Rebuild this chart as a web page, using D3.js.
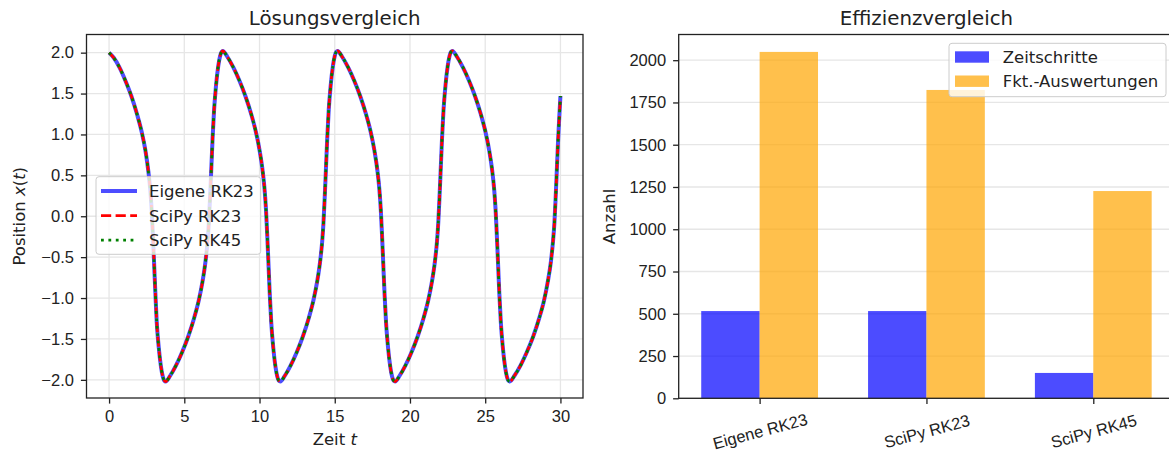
<!DOCTYPE html>
<html>
<head>
<meta charset="utf-8">
<script src="https://cdn.jsdelivr.net/npm/d3@7"></script>
<style>
  body { margin: 0; background: #fff; }
  svg { font-family: "DejaVu Sans", sans-serif; }
  .tick text { font-size: 16.5px; fill: #222; }
</style>
</head>
<body>
<svg id="fig" width="1169" height="455"></svg>
<script>

// 
// data
// 

// time values t of the solution curve
var zeit = [
  0, 0.30, 0.69, 1.08, 1.48, 1.87, 2.17, 2.42, 2.61, 2.74, 2.83, 2.91, 2.99, 3.08, 3.17, 3.30, 3.45, 3.57, 3.67,
  3.76, 4.06, 4.46, 4.86, 5.26, 5.66, 5.96, 6.21, 6.41, 6.54, 6.63, 6.71, 6.79, 6.88, 6.98, 7.11, 7.26, 7.38, 7.48,
  7.56, 7.86, 8.26, 8.66, 9.06, 9.46, 9.76, 10.01, 10.21, 10.34, 10.43, 10.51, 10.59, 10.68, 10.78, 10.91, 11.06, 11.18, 11.28,
  11.38, 11.68, 12.08, 12.48, 12.88, 13.28, 13.58, 13.83, 14.03, 14.16, 14.25, 14.33, 14.41, 14.50, 14.60, 14.73, 14.88, 15.00, 15.10,
  15.19, 15.49, 15.89, 16.29, 16.69, 17.09, 17.39, 17.64, 17.84, 17.97, 18.06, 18.14, 18.22, 18.31, 18.41, 18.54, 18.69, 18.81, 18.91,
  19.01, 19.31, 19.71, 20.11, 20.51, 20.91, 21.21, 21.46, 21.66, 21.79, 21.88, 21.96, 22.04, 22.13, 22.23, 22.36, 22.51, 22.63, 22.73,
  22.82, 23.12, 23.52, 23.92, 24.32, 24.72, 25.02, 25.27, 25.47, 25.60, 25.69, 25.77, 25.85, 25.94, 26.04, 26.17, 26.32, 26.44, 26.54,
  26.64, 26.94, 27.36, 27.77, 28.19, 28.60, 28.91, 29.16, 29.37, 29.50, 29.60, 29.68, 29.76, 29.85, 29.95, 30.00
];

// position x(t), own RK23 solver
var posEigene = [
  2.00, 1.94, 1.82, 1.66, 1.47, 1.24, 1.03, 0.80, 0.55, 0.32, 0.08, -0.22, -0.56, -0.95, -1.30, -1.60, -1.84, -1.96, -2.01,
  -2.02, -1.95, -1.82, -1.66, -1.47, -1.24, -1.03, -0.80, -0.55, -0.32, -0.08, 0.22, 0.56, 0.95, 1.30, 1.60, 1.84, 1.96, 2.01,
  2.02, 1.95, 1.82, 1.66, 1.47, 1.24, 1.03, 0.80, 0.55, 0.32, 0.08, -0.22, -0.56, -0.95, -1.30, -1.60, -1.84, -1.96, -2.01,
  -2.02, -1.95, -1.82, -1.66, -1.47, -1.24, -1.03, -0.80, -0.55, -0.32, -0.08, 0.22, 0.56, 0.95, 1.30, 1.60, 1.84, 1.96, 2.01,
  2.02, 1.95, 1.82, 1.66, 1.47, 1.24, 1.03, 0.80, 0.55, 0.32, 0.08, -0.22, -0.56, -0.95, -1.30, -1.60, -1.84, -1.96, -2.01,
  -2.02, -1.95, -1.82, -1.66, -1.47, -1.24, -1.03, -0.80, -0.55, -0.32, -0.08, 0.22, 0.56, 0.95, 1.30, 1.60, 1.84, 1.96, 2.01,
  2.02, 1.95, 1.82, 1.66, 1.47, 1.24, 1.03, 0.80, 0.55, 0.32, 0.08, -0.22, -0.56, -0.95, -1.30, -1.60, -1.84, -1.96, -2.01,
  -2.02, -1.95, -1.82, -1.66, -1.47, -1.24, -1.03, -0.80, -0.55, -0.32, -0.08, 0.22, 0.56, 0.95, 1.30, 1.47
];

// the scipy curves lie exactly on top of the own solver in the picture
var posSciPyRK23 = posEigene.slice();
var posSciPyRK45 = posEigene.slice();

var xTicksLeft = [0, 5, 10, 15, 20, 25, 30];
var yTicksLeft = [-2.0, -1.5, -1.0, -0.5, 0.0, 0.5, 1.0, 1.5, 2.0];

// efficiency comparison
var methoden = ['Eigene RK23', 'SciPy RK23', 'SciPy RK45'];
var zeitschritte = [516, 516, 150];
var fktAuswertungen = [2049, 1824, 1226];
var yTicksRight = [0, 250, 500, 750, 1000, 1250, 1500, 1750, 2000];

var svg = d3.select('#fig');
var textColor = '#222';
var gridColor = '#e6e6e6';

// 
// small helpers
// 
function styleAxis(g) {
    g.select('.domain').remove();
    g.selectAll('.tick line').attr('stroke', textColor).attr('stroke-width', 1.3);
}

function drawSpines(box) {
    svg.append('rect')
        .attr('x', box.x0).attr('y', box.y0)
        .attr('width', box.x1 - box.x0).attr('height', box.y1 - box.y0)
        .attr('fill', 'none')
        .attr('stroke', textColor)
        .attr('stroke-width', 1.3);
}

// 
// left panel: solution curves
// 
function createSolutionGraph() {

    var box = { x0: 86.5, x1: 583, y0: 34.5, y1: 398 };

    var x = d3.scaleLinear().domain([-1.5, 31.5]).range([box.x0, box.x1]);
    var y = d3.scaleLinear().domain([-2.222, 2.222]).range([box.y1, box.y0]);

    // grid
    var grid = svg.append('g');
    grid.selectAll('.gx').data(xTicksLeft).enter().append('line')
        .attr('x1', function(d) { return x(d); }).attr('x2', function(d) { return x(d); })
        .attr('y1', box.y0).attr('y2', box.y1)
        .attr('stroke', gridColor).attr('stroke-width', 1.3);
    grid.selectAll('.gy').data(yTicksLeft).enter().append('line')
        .attr('x1', box.x0).attr('x2', box.x1)
        .attr('y1', function(d) { return y(d); }).attr('y2', function(d) { return y(d); })
        .attr('stroke', gridColor).attr('stroke-width', 1.3);

    // curves
    var series = [
        { name: 'Eigene RK23', values: posEigene, color: '#4d4dff', width: 4, dash: null },
        { name: 'SciPy RK23', values: posSciPyRK23, color: '#ff0000', width: 2.8, dash: '10.2,4.4' },
        { name: 'SciPy RK45', values: posSciPyRK45, color: '#008000', width: 2.8, dash: '2.8,4.6' }
    ];

    var line = d3.line()
        .x(function(d) { return x(d[0]); })
        .y(function(d) { return y(d[1]); })
        .curve(d3.curveMonotoneX);

    series.forEach(function(s) {
        var pts = zeit.map(function(t, i) { return [t, s.values[i]]; });
        svg.append('path')
            .datum(pts)
            .attr('d', line)
            .attr('fill', 'none')
            .attr('stroke', s.color)
            .attr('stroke-width', s.width)
            .attr('stroke-dasharray', s.dash)
            .attr('stroke-linejoin', 'round');
    });

    // axes
    svg.append('g')
        .attr('transform', 'translate(0,' + box.y1 + ')')
        .call(d3.axisBottom(x).tickValues(xTicksLeft).tickSize(5.6).tickPadding(7).tickFormat(d3.format('d')))
        .call(styleAxis);

    svg.append('g')
        .attr('transform', 'translate(' + box.x0 + ',0)')
        .call(d3.axisLeft(y).tickValues(yTicksLeft).tickSize(5.6).tickPadding(7).tickFormat(d3.format('.1f')))
        .call(styleAxis);

    drawSpines(box);

    // labels
    svg.append('text')
        .attr('x', (box.x0 + box.x1) / 2).attr('y', 25)
        .attr('text-anchor', 'middle')
        .attr('font-size', 19.8).attr('fill', textColor)
        .text('Lösungsvergleich');

    var xl = svg.append('text')
        .attr('x', (box.x0 + box.x1) / 2).attr('y', 444.5)
        .attr('text-anchor', 'middle')
        .attr('font-size', 16.5).attr('fill', textColor);
    xl.append('tspan').text('Zeit ');
    xl.append('tspan').attr('font-style', 'italic').text('t');

    var yl = svg.append('text')
        .attr('transform', 'translate(25,' + (box.y0 + box.y1) / 2 + ') rotate(-90)')
        .attr('text-anchor', 'middle')
        .attr('font-size', 16.5).attr('fill', textColor);
    yl.append('tspan').text('Position ');
    yl.append('tspan').attr('font-style', 'italic').text('x');
    yl.append('tspan').text('(');
    yl.append('tspan').attr('font-style', 'italic').text('t');
    yl.append('tspan').text(')');

    // legend
    var leg = svg.append('g');
    leg.append('rect')
        .attr('x', 96).attr('y', 176.7).attr('width', 164.7).attr('height', 77.6).attr('rx', 3)
        .attr('fill', '#fff').attr('fill-opacity', 0.8)
        .attr('stroke', '#cccccc');

    series.forEach(function(s, i) {
        var cy = 191 + i * 24.6;
        leg.append('line')
            .attr('x1', 101).attr('x2', 137).attr('y1', cy).attr('y2', cy)
            .attr('stroke', s.color)
            .attr('stroke-width', s.width)
            .attr('stroke-dasharray', s.dash);
        leg.append('text')
            .attr('x', 149).attr('y', cy + 6)
            .attr('font-size', 16.5).attr('fill', textColor)
            .text(s.name);
    });
}

// 
// right panel: grouped bars
// 
function createEfficiencyGraph() {

    var box = { x0: 678.7, x1: 1174.2, y0: 34.5, y1: 398.3 };
    var barWidth = 0.35;

    var x = d3.scaleLinear().domain([-0.485, 2.485]).range([box.x0, box.x1]);
    var y = d3.scaleLinear().domain([0, 2152]).range([box.y1, box.y0]);

    // horizontal grid only
    svg.append('g').selectAll('line').data(yTicksRight).enter().append('line')
        .attr('x1', box.x0).attr('x2', box.x1)
        .attr('y1', function(d) { return y(d); }).attr('y2', function(d) { return y(d); })
        .attr('stroke', gridColor).attr('stroke-width', 1.3);

    var groups = [
        { name: 'Zeitschritte', values: zeitschritte, color: 'blue', offset: -barWidth / 2 },
        { name: 'Fkt.-Auswertungen', values: fktAuswertungen, color: 'orange', offset: barWidth / 2 }
    ];

    groups.forEach(function(g) {
        svg.append('g').selectAll('rect').data(g.values).enter().append('rect')
            .attr('x', function(d, i) { return x(i + g.offset - barWidth / 2); })
            .attr('width', x(barWidth) - x(0))
            .attr('y', function(d) { return y(d); })
            .attr('height', function(d) { return y(0) - y(d); })
            .attr('fill', g.color)
            .attr('fill-opacity', 0.7);
    });

    // axes
    var xAxis = svg.append('g')
        .attr('transform', 'translate(0,' + box.y1 + ')')
        .call(d3.axisBottom(x).tickValues([0, 1, 2]).tickSize(5.6).tickFormat(function(d) { return methoden[d]; }))
        .call(styleAxis);

    xAxis.selectAll('.tick text')
        .attr('y', 0)
        .attr('text-anchor', 'middle')
        .attr('transform', 'translate(0,33) rotate(-15)')
        .attr('dy', '0.35em');

    svg.append('g')
        .attr('transform', 'translate(' + box.x0 + ',0)')
        .call(d3.axisLeft(y).tickValues(yTicksRight).tickSize(5.6).tickPadding(7).tickFormat(d3.format('d')))
        .call(styleAxis);

    drawSpines(box);

    svg.append('text')
        .attr('x', (box.x0 + box.x1) / 2).attr('y', 25)
        .attr('text-anchor', 'middle')
        .attr('font-size', 19.8).attr('fill', textColor)
        .text('Effizienzvergleich');

    svg.append('text')
        .attr('transform', 'translate(615,' + (box.y0 + box.y1) / 2 + ') rotate(-90)')
        .attr('text-anchor', 'middle')
        .attr('font-size', 16.5).attr('fill', textColor)
        .text('Anzahl');

    // legend
    var leg = svg.append('g');
    leg.append('rect')
        .attr('x', 949).attr('y', 43.3).attr('width', 217).attr('height', 53.4).attr('rx', 3)
        .attr('fill', '#fff').attr('fill-opacity', 0.8)
        .attr('stroke', '#cccccc');

    groups.forEach(function(g, i) {
        var cy = 57 + i * 24.2;
        leg.append('rect')
            .attr('x', 955).attr('y', cy - 5.7).attr('width', 34).attr('height', 11.4)
            .attr('fill', g.color).attr('fill-opacity', 0.7);
        leg.append('text')
            .attr('x', 1002.7).attr('y', cy + 6)
            .attr('font-size', 16.5).attr('fill', textColor)
            .text(g.name);
    });
}

createSolutionGraph();
createEfficiencyGraph();

</script>
</body>
</html>
